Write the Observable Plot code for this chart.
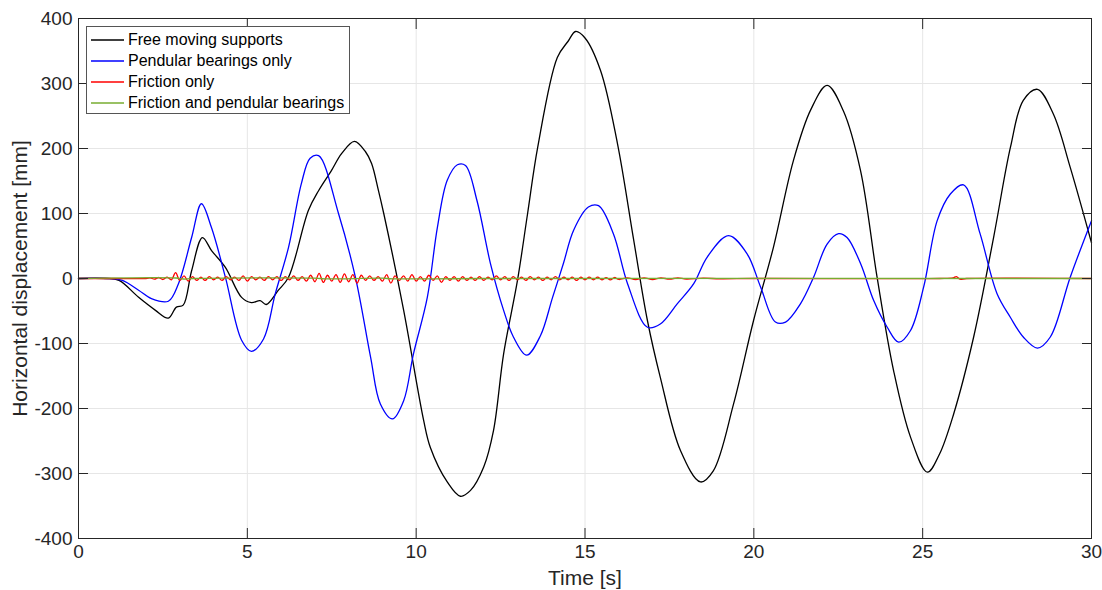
<!DOCTYPE html>
<html><head><meta charset="utf-8">
<script src="https://cdn.jsdelivr.net/npm/d3@7"></script>
<script src="https://cdn.jsdelivr.net/npm/@observablehq/plot@0.6"></script>
<style>
body{margin:0;background:#fff;}
#wrap{position:relative;width:1102px;height:590px;}
#legend{position:absolute;left:86px;top:26px;width:264px;height:88px;border:1px solid #555;background:#fff;box-sizing:border-box;font-family:"Liberation Sans",Arial,sans-serif;font-size:16px;color:#000;padding-top:2px}
.row{display:flex;align-items:center;height:21px;white-space:nowrap}
.sw{width:41px;height:4px;display:block;flex:none}
</style></head>
<body>
<div id="wrap"><div id="legend"></div></div>
<script>
const xTicks = [0,5,10,15,20,25,30];
const yTicks = [-400,-300,-200,-100,0,100,200,300,400];

const seriesNames = ["Free moving supports","Pendular bearings only","Friction only","Friction and pendular bearings"];
const seriesColors = ["#000000","#0000ff","#ff0000","#77ac30"];

// Free moving supports
const blackT = [0,0.8,1.2,1.78,2.28,2.66,2.9,3.1,3.35,3.67,3.94,4.35,4.83,5.12,5.38,5.56,5.92,6.22,6.81,7.11,7.49,7.79,8.17,8.5,8.68,8.88,9.04,9.63,10.22,10.42,10.92,11.31,11.61,12.0,12.29,12.59,13.0,13.3,13.6,14.18,14.5,14.72,15.0,15.46,15.96,16.43,16.85,17.23,17.83,18.42,18.8,19.4,19.99,20.58,21.17,21.68,22.17,22.65,23.16,23.65,24.14,24.64,25.14,25.5,25.92,26.51,27.1,27.6,27.98,28.4,28.87,29.37,30];
const blackV = [0,0,-3,-29,-49,-61,-44,-41,12,63,43,17,-29,-37,-34,-40,-18,2,105,135,166,192,211,195,177,136,100,-49,-218,-260,-313,-335,-326,-290,-234,-116,-3,100,202,340,365,380,370,320,208,63,-65,-152,-265,-313,-296,-193,-65,48,181,259,297,258,166,2,-142,-244,-298,-270,-208,-90,63,202,274,291,253,171,55];

// Pendular bearings only
const blueT = [0,0.9,1.3,1.78,2.16,2.66,2.96,3.35,3.64,3.94,4.35,4.83,5.12,5.48,5.83,6.22,6.6,6.86,7.11,7.7,8.2,8.65,8.94,9.3,9.63,9.92,10.33,10.63,10.92,11.22,11.46,11.8,12.2,12.59,12.88,13.27,13.68,14.04,14.36,14.66,15.1,15.4,15.84,16.26,16.85,17.23,17.73,18.22,18.62,19.25,19.8,20.2,20.64,20.94,21.38,21.77,22.17,22.51,22.76,23.16,23.55,23.95,24.29,24.64,25.03,25.43,25.82,26.21,26.7,27.2,27.6,27.98,28.4,28.78,29.37,30];
const blueV = [0,0,-3,-18,-31,-35,-8,63,115,78,2,-95,-112,-93,-23,48,146,185,189,100,2,-121,-193,-216,-188,-116,-29,79,151,175,174,120,23,-49,-90,-118,-88,-29,23,74,110,112,69,-8,-75,-70,-39,-8,33,66,38,-13,-67,-67,-39,2,53,69,63,23,-34,-75,-98,-80,-13,89,130,144,69,-23,-60,-90,-107,-90,2,89];

// Friction only
const redT = [0,1,2,2.125,2.25,2.375,2.5,2.625,2.75,2.875,3,3.125,3.25,3.375,3.5,3.625,3.75,3.875,4,4.125,4.25,4.375,4.5,4.625,4.75,4.875,5,5.125,5.25,5.375,5.5,5.625,5.75,5.875,6,6.125,6.25,6.375,6.5,6.625,6.75,6.875,7,7.125,7.25,7.375,7.5,7.625,7.75,7.875,8,8.125,8.25,8.375,8.5,8.625,8.75,8.875,9,9.125,9.25,9.375,9.5,9.625,9.75,9.875,10,10.125,10.25,10.375,10.5,10.625,10.75,10.875,11,11.125,11.25,11.375,11.5,11.625,11.75,11.875,12,12.125,12.25,12.375,12.5,12.625,12.75,12.875,13,13.125,13.25,13.375,13.5,13.625,13.75,13.875,14,14.125,14.25,14.375,14.5,14.625,14.75,14.875,15,15.125,15.25,15.375,15.5,15.625,15.75,15.875,16,16.25,16.5,16.75,17,17.25,17.5,17.75,18,18.5,19,20,25.5,25.9,26,26.1,26.3,30];
const redV = [0,0,0,1,-1,1.5,-1.5,2,-2,9,-3,4,-4,3,-3,2,-3,3,-2,2,-3,3,-2,2,-3,4,-4,3,-2,2,-3,3,-2,3,-3,3,-2,4,-3,3,-4,5,-5,8,-6,5,-4,6,-6,7,-5,6,-7,5,-3,4,-3,3,-4,6,-7,4,-3,4,-4,6,-4,3,-4,5,-3,4,-6,3,-3,3,-4,3,-3,2,-3,3,-3,2,-2,4,-2,3,-3,3,-2,2,-3,3,-2,2,-3,2,-2,3,-2,2,-2,2,-3,2,-2,2,-2,2,-2,1.5,-2,1.5,-1.5,1,-1.5,1,-1.5,1,-1,1,-1,0.5,-0.5,0,0,1,3,-1,0,0];

// Friction and pendular bearings
const greenT = [0,2.9,3.1,3.4,7,7.3,9,9.3,12,30];
const greenV = [0,0.8,-0.8,0,0.6,-0.6,0.5,-0.5,0,0];

const toRows = (T, V) => T.map((t, i) => ({t, v: V[i]}));
const seriesData = [toRows(blackT, blackV), toRows(blueT, blueV), toRows(redT, redV), toRows(greenT, greenV)];

const fnt = "'Liberation Sans', Arial, sans-serif";
const fmt = d => String(d);

const chart = Plot.plot({
  width: 1102, height: 590,
  marginLeft: 78, marginRight: 11, marginTop: 18, marginBottom: 52,
  style: {fontFamily: fnt, fontSize: "19px", color: "#262626", background: "white", overflow: "visible"},
  x: {domain: [0, 30]},
  y: {domain: [-400, 400]},
  marks: [
    Plot.gridX(xTicks, {stroke: "#e6e6e6", strokeOpacity: 1}),
    Plot.gridY(yTicks, {stroke: "#e6e6e6", strokeOpacity: 1}),
    ...seriesData.map((d, i) => Plot.line(d, {x: "t", y: "v", stroke: seriesColors[i], strokeWidth: 1.3, curve: "catmull-rom"})),
    Plot.frame({stroke: "#262626", strokeWidth: 1}),
    Plot.axisX(xTicks, {anchor: "bottom", tickSize: 0, tickPadding: 6, tickFormat: fmt, fontSize: 19, label: null}),
    Plot.axisX(xTicks, {anchor: "bottom", tickSize: 0, tickFormat: () => "", fontSize: 21, label: "Time [s]", labelAnchor: "center", labelOffset: 46, labelArrow: "none"}),
    Plot.axisX(xTicks, {anchor: "bottom", tickSize: -10, tickFormat: () => "", label: null, stroke: "#262626"}),
    Plot.axisX(xTicks, {anchor: "top", tickSize: -10, tickFormat: () => "", label: null, stroke: "#262626"}),
    Plot.axisY(yTicks, {anchor: "left", tickSize: 0, tickPadding: 6, tickFormat: fmt, fontSize: 19, label: null}),
    Plot.axisY(yTicks, {anchor: "left", tickSize: 0, tickFormat: () => "", fontSize: 21, label: "Horizontal displacement [mm]", labelAnchor: "center", labelOffset: 66, labelArrow: "none"}),
    Plot.axisY(yTicks, {anchor: "left", tickSize: -10, tickFormat: () => "", label: null, stroke: "#262626"}),
    Plot.axisY(yTicks, {anchor: "right", tickSize: -10, tickFormat: () => "", label: null, stroke: "#262626"})
  ]
});
document.getElementById("wrap").prepend(chart);

const NS = "http://www.w3.org/2000/svg";
const leg = document.getElementById("legend");
seriesNames.forEach((name, i) => {
  const row = document.createElement("div");
  row.className = "row";
  const sw = document.createElementNS(NS, "svg");
  sw.setAttribute("class", "sw");
  sw.setAttribute("width", "41");
  sw.setAttribute("height", "4");
  const ln = document.createElementNS(NS, "line");
  ln.setAttribute("x1", "4"); ln.setAttribute("x2", "37");
  ln.setAttribute("y1", "2"); ln.setAttribute("y2", "2");
  ln.setAttribute("stroke", seriesColors[i]);
  ln.setAttribute("stroke-width", "1.5");
  sw.append(ln);
  const tx = document.createElement("span");
  tx.textContent = name;
  row.append(sw, tx);
  leg.append(row);
});
</script>
</body></html>
